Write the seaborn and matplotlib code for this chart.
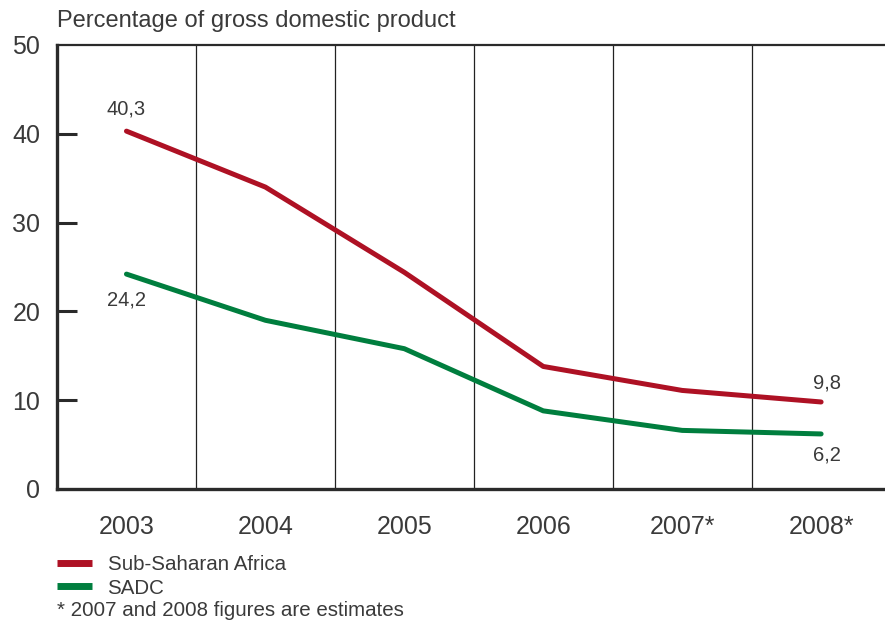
import matplotlib
matplotlib.use("Agg")
import matplotlib.pyplot as plt
from matplotlib.lines import Line2D
import seaborn as sns
import pandas as pd

years = ["2003", "2004", "2005", "2006", "2007*", "2008*"]
ssa = [40.3, 34.0, 24.4, 13.8, 11.1, 9.8]
sadc = [24.2, 19.0, 15.8, 8.8, 6.6, 6.2]
series_names = ["Sub-Saharan Africa", "SADC"]
colors = ["#AE1124", "#007E3E"]
y_ticks = [0, 10, 20, 30, 40, 50]
title = "Percentage of gross domestic product"
footnote = "* 2007 and 2008 figures are estimates"

sns.set_theme(style="white")
plt.rcParams["font.family"] = ["Liberation Sans", "DejaVu Sans"]
txt = "#3a3a3a"

df = pd.DataFrame({
    "pos": list(range(len(years))) * 2,
    "value": ssa + sadc,
    "series": [series_names[0]] * len(years) + [series_names[1]] * len(years),
})

fig = plt.figure(figsize=(8.85, 6.23), dpi=100)
ax = fig.add_axes([57 / 885, 1 - 489 / 623, (885 - 57) / 885, (489 - 45) / 623])

sns.lineplot(data=df, x="pos", y="value", hue="series", palette=colors,
             linewidth=3.6, ax=ax, legend=False, solid_capstyle="round")

ax.set_xlim(-0.5, 5.46)
ax.set_ylim(0, 50)
ax.set_xticks(range(len(years)))
ax.set_xticklabels(years)
ax.set_yticks(y_ticks)
ax.set_xlabel("")
ax.set_ylabel("")

for b in [0.5, 1.5, 2.5, 3.5, 4.5]:
    ax.axvline(b, color="#222222", linewidth=0.9, zorder=0)

for side in ["left", "bottom"]:
    ax.spines[side].set_color("#2a2a2a")
    ax.spines[side].set_linewidth(2.4)
ax.spines["top"].set_color("#2a2a2a")
ax.spines["top"].set_linewidth(1.6)
ax.spines["right"].set_visible(False)

ax.tick_params(axis="y", left=True, direction="in", length=14.5, width=2.2, color="#2a2a2a",
               labelsize=18, labelcolor=txt, pad=12)
ax.tick_params(axis="x", bottom=False, length=0, labelsize=18, labelcolor=txt, pad=19)
ax.yaxis.get_major_ticks()[0].tick1line.set_visible(False)
ax.yaxis.get_major_ticks()[-1].tick1line.set_visible(False)

# value labels
lab_fs = 14.5
ax.annotate("40,3", (0, ssa[0]), xytext=(0, 9), textcoords="offset points",
            ha="center", va="bottom", fontsize=lab_fs, color=txt)
ax.annotate("24,2", (0, sadc[0]), xytext=(0, -12), textcoords="offset points",
            ha="center", va="top", fontsize=lab_fs, color=txt)
ax.annotate("9,8", (5, ssa[-1]), xytext=(4, 7), textcoords="offset points",
            ha="center", va="bottom", fontsize=lab_fs, color=txt)
ax.annotate("6,2", (5, sadc[-1]), xytext=(4, -8), textcoords="offset points",
            ha="center", va="top", fontsize=lab_fs, color=txt)

fig.text(57 / 885, 1 - 21 / 623, title, ha="left", va="center", fontsize=17, color=txt)

handles = [Line2D([0], [0], color=c, linewidth=5, solid_capstyle="butt") for c in colors]
fig.legend(handles, series_names, loc="upper left",
           bbox_to_anchor=(51 / 885, 1 - 549 / 623), frameon=False,
           fontsize=14.8, labelcolor=txt, handlelength=1.7, handletextpad=0.75,
           labelspacing=0.22, borderaxespad=0, borderpad=0.3)
fig.text(57 / 885, 1 - 611 / 623, footnote, ha="left", va="center", fontsize=14.8, color=txt)

fig.savefig("out.png", dpi=100)
